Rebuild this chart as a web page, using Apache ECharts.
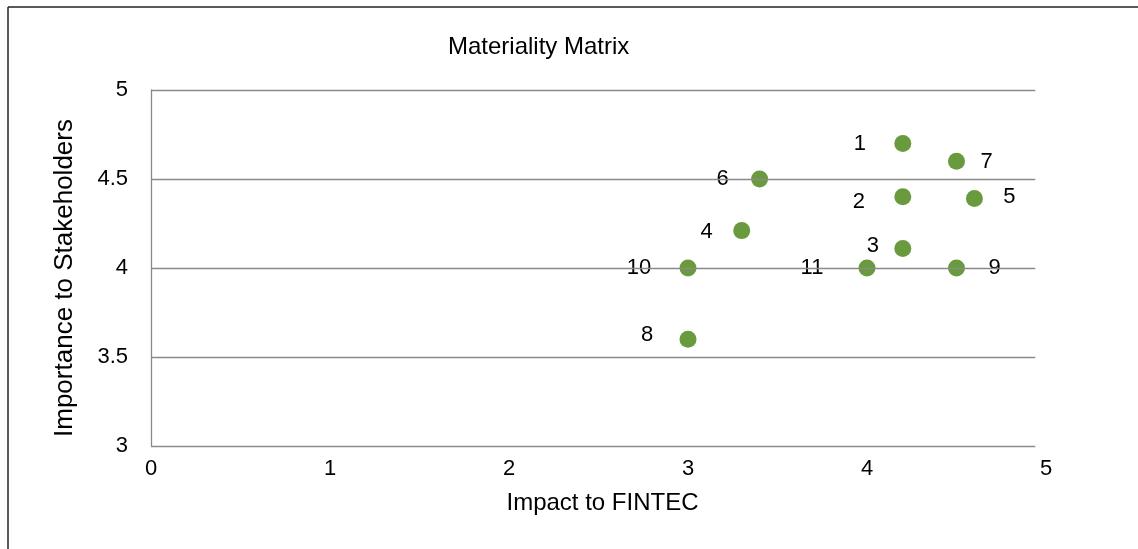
<!DOCTYPE html>
<html>
<head>
<meta charset="utf-8">
<script src="https://cdn.jsdelivr.net/npm/echarts@6/dist/echarts.min.js"></script>
<style>
html,body{margin:0;padding:0;background:#fff;}
#chart{width:1138px;height:549px;}
</style>
</head>
<body>
<div id="chart"></div>
<script>
// Data
const ids = ['1','2','3','4','5','6','7','8','9','10','11'];
const impact = [4.2, 4.2, 4.2, 3.3, 4.6, 3.4, 4.5, 3.0, 4.5, 3.0, 4.0];
const importance = [4.7, 4.4, 4.11, 4.21, 4.39, 4.5, 4.6, 3.6, 4.0, 4.0, 4.0];
const yTicks = [3, 3.5, 4, 4.5, 5];
const xTicks = [0, 1, 2, 3, 4, 5];

// Label placement (pixel offsets from the point centre)
const labelOffsets = [[-43,1],[-44,5],[-30,-2],[-35,1],[35,-2],[-37,0],[30,1],[-41,-4],[38,0],[-49,0],[-55,0]];
const gridEnd = 4.94; // gridlines stop short of the last x tick

const FONT = 'Liberation Sans';
const points = ids.map((id, i) => ({
  value: [impact[i], importance[i], id],
  label: { offset: labelOffsets[i] }
}));

const chart = echarts.init(document.getElementById('chart'));
chart.setOption({
  animation: false,
  backgroundColor: '#fff',
  textStyle: { fontFamily: FONT },
  title: {
    text: 'Materiality Matrix',
    left: 443, top: 30,
    textStyle: { fontFamily: FONT, fontSize: 24, fontWeight: 'normal', color: '#000' }
  },
  grid: { left: 151, top: 90, right: 92, bottom: 103, containLabel: false },
  xAxis: {
    type: 'value', min: xTicks[0], max: xTicks[xTicks.length - 1], interval: 1,
    axisLine: { show: false }, axisTick: { show: false }, splitLine: { show: false },
    axisLabel: { fontFamily: FONT, fontSize: 22, color: '#000', margin: 12 },
    name: 'Impact to FINTEC', nameLocation: 'middle', nameGap: 45,
    nameTextStyle: { fontFamily: FONT, fontSize: 24, color: '#000', padding: [0, 0, 0, 8] }
  },
  yAxis: {
    type: 'value', min: yTicks[0], max: yTicks[yTicks.length - 1], interval: 0.5,
    axisLine: { show: true, lineStyle: { color: '#8a8a8a', width: 1.3 } },
    axisTick: { show: false }, splitLine: { show: false },
    axisLabel: { fontFamily: FONT, fontSize: 22, color: '#000', margin: 23 },
    name: 'Importance to Stakeholders', nameLocation: 'middle', nameGap: 73,
    nameTextStyle: { fontFamily: FONT, fontSize: 26, color: '#000', padding: [0, 20, 0, 0] }
  },
  graphic: [
    { type: 'line', shape: { x1: 8, y1: 7, x2: 8, y2: 549 }, style: { stroke: '#222', lineWidth: 1.5 } },
    { type: 'line', shape: { x1: 8, y1: 7, x2: 1138, y2: 7 }, style: { stroke: '#222', lineWidth: 1.5 } }
  ],
  series: [
    {
      type: 'scatter', data: [], z: 1, silent: true,
      markLine: {
        silent: true, symbol: 'none', animation: false,
        label: { show: false },
        lineStyle: { color: '#8a8a8a', width: 1.3, type: 'solid' },
        data: yTicks.map(v => [{ coord: [xTicks[0], v] }, { coord: [gridEnd, v] }])
      }
    },
    {
      type: 'scatter', z: 3,
      symbolSize: 17,
      itemStyle: { color: '#699a3e', opacity: 1 },
      data: points,
      label: {
        show: true, position: 'inside',
        formatter: p => p.value[2],
        fontFamily: FONT, fontSize: 22, color: '#000',
        backgroundColor: '#fff', width: 41, align: 'center', padding: [1, 0]
      }
    }
  ]
});
</script>
</body>
</html>
